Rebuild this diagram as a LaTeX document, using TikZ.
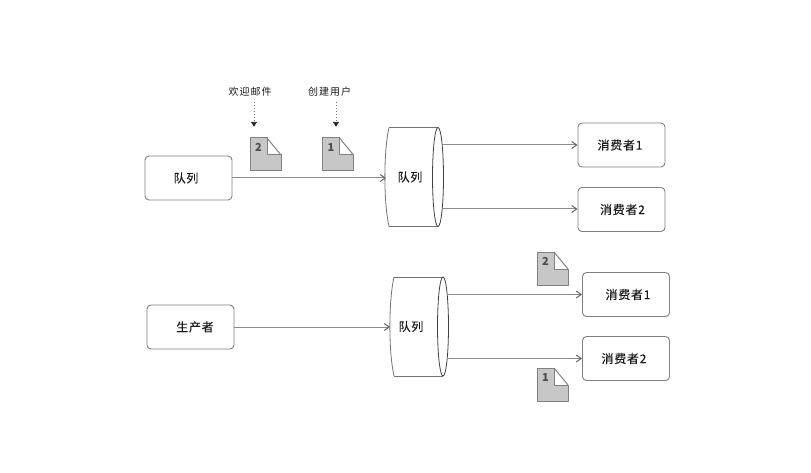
\documentclass[tikz,border=0pt]{standalone}
\usepackage{fontspec}
\setmainfont{Noto Sans CJK SC}
\usetikzlibrary{arrows.meta,calc}
\tikzset{
  box/.style={draw=black!50,line width=0.9pt,rounded corners=4pt,minimum width=87pt,minimum height=44pt,inner sep=0pt,font=\fontsize{12}{14}\selectfont\addfontfeature{LetterSpace=6,FakeBold=0.15},text=black!90},
  cyl/.style={minimum width=56pt,minimum height=99pt,inner sep=0pt,font=\fontsize{12}{14}\selectfont\addfontfeature{LetterSpace=6,FakeBold=0.15},text=black!90},
  flow/.style={draw=black!45,line width=1pt,-{Straight Barb[length=5pt,width=7pt,black!60]}},
  drop/.style={draw=black!55,dash pattern=on 1.5pt off 1.5pt,line width=0.6pt,-{Latex[length=5pt,width=6.5pt,black!85]}},
  lbl/.style={inner sep=0pt,font=\fontsize{10}{12}\selectfont\addfontfeature{LetterSpace=10},text=black!90},
  docnum/.style={inner sep=0pt,font=\fontsize{11}{13}\bfseries\selectfont,text=black!70},
  pics/docu/.style={code={
    \fill[black!22] (-15.5,-16.5) -- (1.5,-16.5) -- (1.5,0.5) -- (15.5,0.5) -- (15.5,16.5) -- (-15.5,16.5) -- cycle;
    \draw[black!50,line width=1pt,line join=round] (-15.5,-16.5) -- (1.5,-16.5) -- (1.5,0.5) -- (15.5,0.5) -- (15.5,16.5) -- (-15.5,16.5) -- cycle;
    \draw[black!50,line width=1pt,line join=round] (1.5,-16.5) -- (15.5,0.5);
    \node[docnum] at (-7,-7) {#1};
  }},
  pics/drum/.style={code={
    \draw[black!55,line width=0.8pt] (-24,-49.5) -- (25,-49.5) (-24,49.5) -- (25,49.5);
    \draw[black!55,line width=0.8pt] (-24,-49.5) .. controls (-29.5,-25) and (-29.5,25) .. (-24,49.5);
    \draw[black!75,line width=0.8pt] (25,-49.5) arc[start angle=-90,end angle=270,x radius=5.5,y radius=49.5];
  }}
}
\begin{document}
\begin{tikzpicture}[x=1pt,y=-1pt]
\useasboundingbox (0,0) rectangle (811,473);
% top row
\node[box] (p1) at (188.5,178) {\hspace*{-5pt}队列};
\path (413,177) pic {drum={}};
\node[cyl] (q1) at (413,177) {\hspace*{-6pt}队列};
\node[box] (c1) at (621.5,145) {\hspace*{-3pt}消费者1};
\node[box] (c2) at (621.5,209.5) {\hspace*{2pt}消费者2};
\coordinate (q1a) at (443,145);
\coordinate (q1b) at (443,209);
\coordinate (q1in) at (386,178);
\draw[flow] (p1.east) -- (q1in);
\draw[flow] (q1a) -- (c1.west |- q1a);
\draw[flow] (q1b) -- (c2.west |- q1b);
\path (265.5,154.5) pic {docu={2}};
\path (338,154.5) pic {docu={1}};
\node[lbl] (l1) at (250,92) {欢迎邮件};
\node[lbl] (l2) at (329.5,92) {创建用户};
\coordinate (d1) at (254,127);
\coordinate (d2) at (336,127);
\draw[drop] (l1.south -| d1) ++(0,5) -- (d1);
\draw[drop] (l2.south -| d2) ++(0,5) -- (d2);
% bottom row
\node[box] (p2) at (190.5,327) {\hspace*{9pt}生产者};
\path (418,326.5) pic {drum={}};
\node[cyl] (q2) at (417,326.5) {\hspace*{-12pt}队列};
\node[box] (c3) at (626,294.5) {\hspace*{4pt}消费者1};
\node[box] (c4) at (626,358.5) {\hspace*{-4pt}消费者2};
\coordinate (q2a) at (447,294.5);
\coordinate (q2b) at (447,358.5);
\coordinate (q2in) at (390,327);
\draw[flow] (p2.east) -- (q2in);
\draw[flow] (q2a) -- (c3.west);
\draw[flow] (q2b) -- (c4.west);
\path (552.5,268.5) pic {docu={2}};
\path (552.5,384.5) pic {docu={1}};
\end{tikzpicture}
\end{document}
